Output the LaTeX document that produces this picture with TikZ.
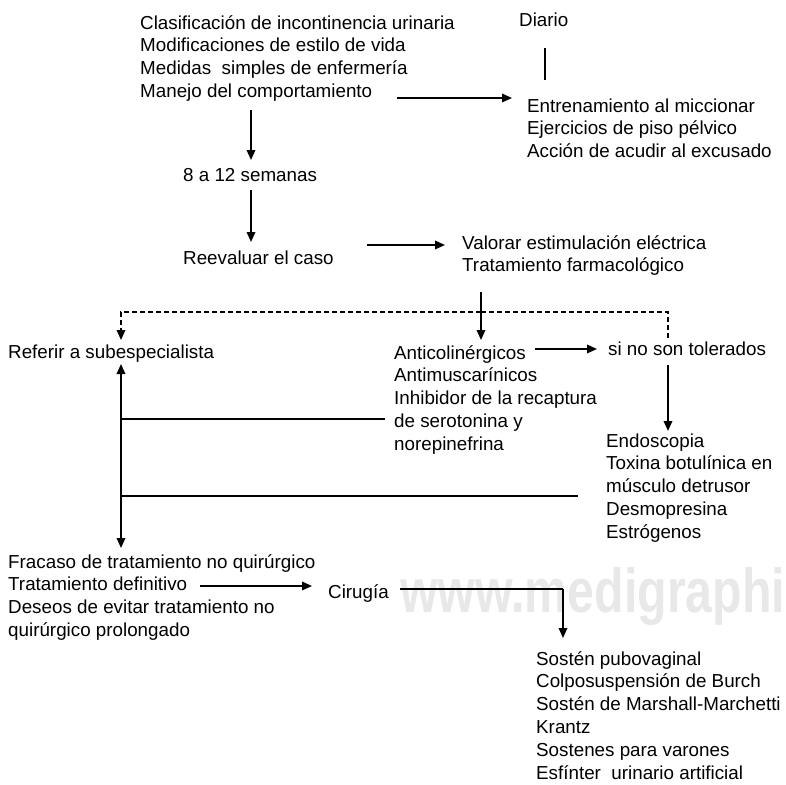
\documentclass[tikz,border=0pt]{standalone}
\usepackage{fontspec}
\setmainfont{Liberation Sans}
\newfontfamily\wmfont{Liberation Sans}[FakeStretch=0.78]
\usetikzlibrary{arrows.meta,calc}

\tikzset{
  txt/.style={anchor=base west, inner sep=0pt, align=left,
    font=\fontsize{18.8}{22.8}\selectfont},
  conn/.style={line width=1.8pt},
  tip/.style={-{Triangle[length=10pt,width=8.5pt]}},
  arr/.style={conn, tip},
  dashline/.style={conn, dash pattern=on 5pt off 3pt}
}

\begin{document}
\begin{tikzpicture}[x=1pt,y=-1pt]
		%%%%% START %%%%%
		\useasboundingbox (0,0) rectangle (785,785);
		
		% watermark
		\node[anchor=base west, inner sep=0pt, text=black!9,
		  font=\wmfont\bfseries\fontsize{62}{62}\selectfont] (wm) at (400,612) {www.medigraphi};
		
		% top (nodes placed at the baseline of their last line)
		\node[txt] (manejo) at (140,97.4) {Clasificación de incontinencia urinaria\\Modificaciones de estilo de vida\\Medidas\ \ simples de enfermería\\Manejo del comportamiento};
		\node[txt] (diario) at (519,26) {Diario};
		\node[txt] (entrena) at (527,157.6) {Entrenamiento al miccionar\\Ejercicios de piso pélvico\\Acción de acudir al excusado};
		\node[txt] (semanas) at (183,181) {8 a 12 semanas};
		\node[txt] (reeval) at (183,264) {Reevaluar el caso};
		\node[txt] (valorar) at (462,271.8) {Valorar estimulación eléctrica\\Tratamiento farmacológico};
		
		% middle
		\node[txt] (referir) at (8,358) {Referir a subespecialista};
		\node[txt] (anticol) at (394,450.2) {Anticolinérgicos\\Antimuscarínicos\\Inhibidor de la recaptura\\de serotonina y\\norepinefrina};
		\node[txt] (sino) at (608,355) {si no son tolerados};
		\node[txt] (endos) at (606,538.2) {Endoscopia\\Toxina botulínica en\\músculo detrusor\\Desmopresina\\Estrógenos};
		
		% bottom
		\node[txt] (fracaso) at (8,636.4) {Fracaso de tratamiento no quirúrgico\\Tratamiento definitivo\\Deseos de evitar tratamiento no\\quirúrgico prolongado};
		\node[txt] (cirugia) at (328,598) {Cirugía};
		\node[txt] (sosten) at (536,779) {Sostén pubovaginal\\Colposuspensión de Burch\\Sostén de Marshall-Marchetti\\Krantz\\Sostenes para varones\\Esfínter\ \ urinario artificial};
		
		% connector ends
		\coordinate (m1) at (397,98);
		\coordinate (m2) at (512,98);
		\coordinate (d1) at (545,48);
		\coordinate (d2) at (545,80);
		\coordinate (s1) at (251,110);
		\coordinate (s2) at (251,160);
		\coordinate (s3) at (251,190);
		\coordinate (s4) at (251,242);
		\coordinate (r1) at (367,245);
		\coordinate (r2) at (445,245);
		\coordinate (v1) at (481,292);
		\coordinate (v2) at (481,312);
		\coordinate (v3) at (481,340);
		\coordinate (ref) at (121,340);
		\coordinate (sn) at (668,338);
		\coordinate (a1) at (535,349);
		\coordinate (a2) at (597,349);
		\coordinate (t1) at (668,365);
		\coordinate (t2) at (668,431);
		\coordinate (lt) at (121,364);
		\coordinate (lb) at (121,548);
		\coordinate (h1) at (385,419);
		\coordinate (h2) at (578,496);
		\coordinate (f1) at (200,586);
		\coordinate (f2) at (312,586);
		\coordinate (c1) at (400,589);
		\coordinate (c2) at (563,589);
		\coordinate (c3) at (563,638);
		
		\draw[conn] (d1) -- (d2);
		\draw[arr] (m1) -- (m2);
		\draw[arr] (s1) -- (s2);
		\draw[arr] (s3) -- (s4);
		\draw[arr] (r1) -- (r2);
		\draw[arr] (v1) -- (v3);
		\draw[dashline] (v2) -| (sn);
		\draw[dashline, tip] (v2) -| (ref);
		\draw[arr] (a1) -- (a2);
		\draw[arr] (t1) -- (t2);
		
		\draw[conn, {Triangle[length=10pt,width=8.5pt]}-{Triangle[length=10pt,width=8.5pt]}] (lt) -- (lb);
		\draw[conn] (lt |- h1) -- (h1);
		\draw[conn] (lt |- h2) -- (h2);
		
		\draw[arr] (f1) -- (f2);
		\draw[conn] (c1) -| (c2);
		\draw[arr] (c2) -- (c3);
		%%%%% END %%%%%
\end{tikzpicture}
\end{document}
